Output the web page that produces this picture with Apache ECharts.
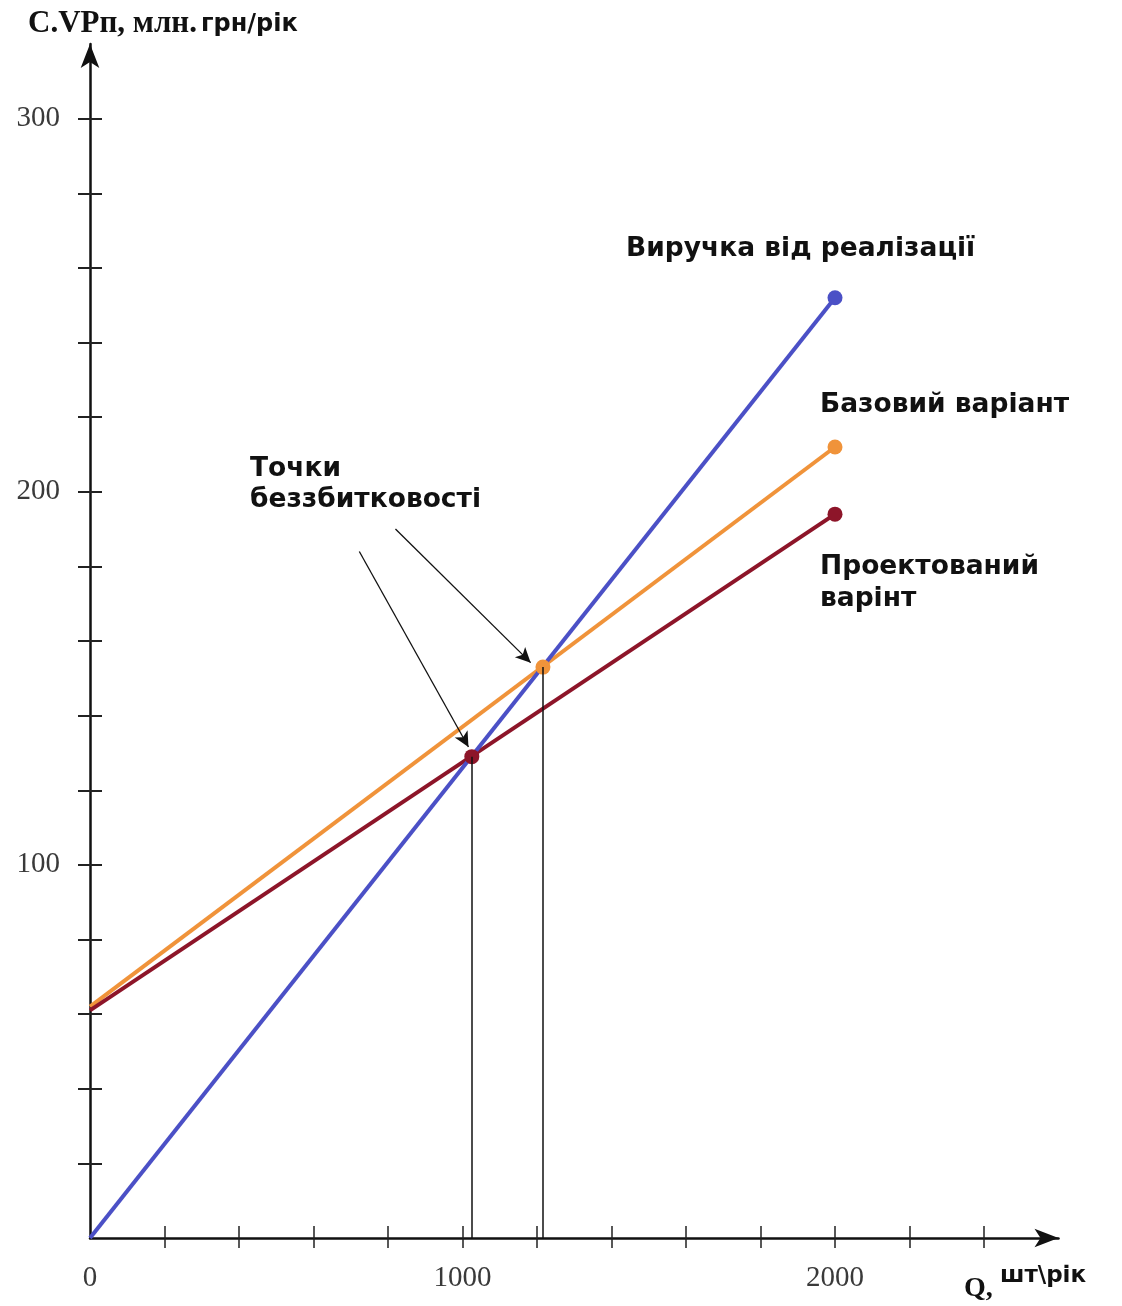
<!DOCTYPE html>
<html>
<head>
<meta charset="utf-8">
<script src="https://cdn.jsdelivr.net/npm/echarts@6/dist/echarts.min.js"></script>
<style>
  html, body { margin: 0; padding: 0; background: #fff; }
  #chart { width: 1122px; height: 1306px; }
</style>
</head>
<body>
<div id="chart"></div>
<script>
// Output volume Q (шт/рік) at the ends of each line
const qRange = [0, 2000];
// Sales revenue and total costs, млн. грн/рік
const revenue = [0, 252];
const baseCost = [62, 212];
const projectedCost = [61, 194];
// Break-even points: [projected variant, base variant]
const breakEvenQ = [1025, 1216];
const breakEvenValue = [129, 153];
// Pointer arrows from the caption to the break-even points
const pointerFrom = [[723, 184], [820, 190]];
const pointerTo = [[1016, 131.6], [1183, 154.2]];
// Axis ticks and labels
const xTicks = [200, 400, 600, 800, 1000, 1200, 1400, 1600, 1800, 2000, 2200, 2400];
const xLabels = [0, 1000, 2000];
const yTicks = [20, 40, 60, 80, 100, 120, 140, 160, 180, 200, 220, 240, 260, 280, 300];
const yLabels = [100, 200, 300];

const BLUE = '#4b50c6';
const ORANGE = '#f0933a';
const DARKRED = '#8d1529';

const chart = echarts.init(document.getElementById('chart'), null, { renderer: 'canvas' });

function linePoints(ys) {
  return qRange.map((q, i) => ({
    value: [q, ys[i]],
    symbol: i === qRange.length - 1 ? 'circle' : 'none'
  }));
}

const serifLabel = {
  fontFamily: 'Liberation Serif', fontSize: 29, color: '#3a3a3a',
  formatter: v => String(v)
};
const captionFont = 'bold 26.5px "DejaVu Sans"';

const option = {
  backgroundColor: '#ffffff',
  animation: false,
  grid: { left: 90, top: 44, right: 63.5, bottom: 68, containLabel: false },
  xAxis: [
    {
      type: 'value', min: 0, max: 2600,
      splitLine: { show: false },
      axisLine: { show: true, lineStyle: { color: '#111', width: 2.5 }, symbol: ['none', 'arrow'], symbolSize: [14, 24] },
      axisTick: { show: true, inside: false, length: 10, lineStyle: { color: '#222', width: 1.5 }, customValues: xTicks },
      axisLabel: { show: true, margin: 26, customValues: xLabels, ...serifLabel }
    },
    {
      type: 'value', min: 0, max: 2600, position: 'bottom', offset: 0,
      splitLine: { show: false },
      axisLine: { show: false },
      axisTick: { show: true, inside: true, length: 12, lineStyle: { color: '#222', width: 1.5 }, customValues: xTicks },
      axisLabel: { show: false }
    }
  ],
  yAxis: [
    {
      type: 'value', min: 0, max: 320,
      splitLine: { show: false },
      axisLine: { show: true, lineStyle: { color: '#111', width: 2.5 }, symbol: ['none', 'arrow'], symbolSize: [14, 24] },
      axisTick: { show: true, inside: false, length: 12, lineStyle: { color: '#222', width: 2 }, customValues: yTicks },
      axisLabel: { show: true, margin: 30, customValues: yLabels, ...serifLabel }
    },
    {
      type: 'value', min: 0, max: 320, position: 'left', offset: 0,
      splitLine: { show: false },
      axisLine: { show: false },
      axisTick: { show: true, inside: true, length: 12, lineStyle: { color: '#222', width: 2 }, customValues: yTicks },
      axisLabel: { show: false }
    }
  ],
  series: [
    {
      name: 'Виручка від реалізації', type: 'line', xAxisIndex: 0, yAxisIndex: 0,
      data: linePoints(revenue), symbolSize: 15,
      lineStyle: { color: BLUE, width: 4 }, itemStyle: { color: BLUE, opacity: 1 }, z: 3
    },
    {
      name: 'Базовий варіант', type: 'line', xAxisIndex: 0, yAxisIndex: 0,
      data: linePoints(baseCost), symbolSize: 15,
      lineStyle: { color: ORANGE, width: 4 }, itemStyle: { color: ORANGE, opacity: 1 }, z: 2
    },
    {
      name: 'Проектований варінт', type: 'line', xAxisIndex: 0, yAxisIndex: 0,
      data: linePoints(projectedCost), symbolSize: 15,
      lineStyle: { color: DARKRED, width: 4 }, itemStyle: { color: DARKRED, opacity: 1 }, z: 2
    },
    {
      // break-even dots with drop lines to the Q axis
      name: 'Точки беззбитковості', type: 'scatter', xAxisIndex: 0, yAxisIndex: 0,
      symbolSize: 15, z: 4,
      data: breakEvenQ.map((q, i) => ({
        value: [q, breakEvenValue[i]],
        itemStyle: { color: i === 0 ? DARKRED : ORANGE, opacity: 1 }
      })),
      markLine: {
        silent: true, symbol: ['none', 'none'], label: { show: false },
        lineStyle: { color: '#111', width: 1.5, type: 'solid' },
        data: breakEvenQ.map((q, i) => [
          { coord: [q, breakEvenValue[i]] },
          { coord: [q, 0] }
        ])
      }
    },
    {
      // caption pointers
      type: 'line', xAxisIndex: 0, yAxisIndex: 0, data: [], z: 5,
      markLine: {
        silent: true, symbol: ['none', 'arrow'], symbolSize: [11, 15], label: { show: false },
        lineStyle: { color: '#111', width: 1.3, type: 'solid' },
        data: pointerFrom.map((p, i) => [
          { coord: p },
          { coord: pointerTo[i] }
        ])
      }
    }
  ],
  graphic: [
    // value axis title: serif part + sans part on a shared baseline
    {
      type: 'text', x: 28, y: 8,
      style: { text: 'С.VPп, млн.', font: 'bold 31px "Liberation Serif"', fill: '#111', verticalAlign: 'top' }
    },
    {
      type: 'text', x: 201, y: 13,
      style: { text: 'грн/рік', font: 'bold 24px "DejaVu Sans"', fill: '#111', verticalAlign: 'top' }
    },
    // quantity axis title
    {
      type: 'text', x: 964, y: 1275,
      style: { text: 'Q,', font: 'bold 28px "Liberation Serif"', fill: '#111', verticalAlign: 'top' }
    },
    {
      type: 'text', x: 1000, y: 1265,
      style: { text: 'шт\\рік', font: 'bold 23px "DejaVu Sans"', fill: '#111', verticalAlign: 'top' }
    },
    {
      type: 'text', left: 626, top: 236,
      style: { text: 'Виручка від реалізації', font: captionFont, fill: '#111' }
    },
    {
      type: 'text', left: 820, top: 392,
      style: { text: 'Базовий варіант', font: captionFont, fill: '#111' }
    },
    {
      type: 'text', left: 820, top: 551,
      style: { text: 'Проектований\nварінт', font: captionFont, fill: '#111', lineHeight: 32 }
    },
    {
      type: 'text', left: 250, top: 454,
      style: { text: 'Точки\nбеззбитковості', font: captionFont, fill: '#111', lineHeight: 31 }
    }
  ]
};

chart.setOption(option);
</script>
</body>
</html>
